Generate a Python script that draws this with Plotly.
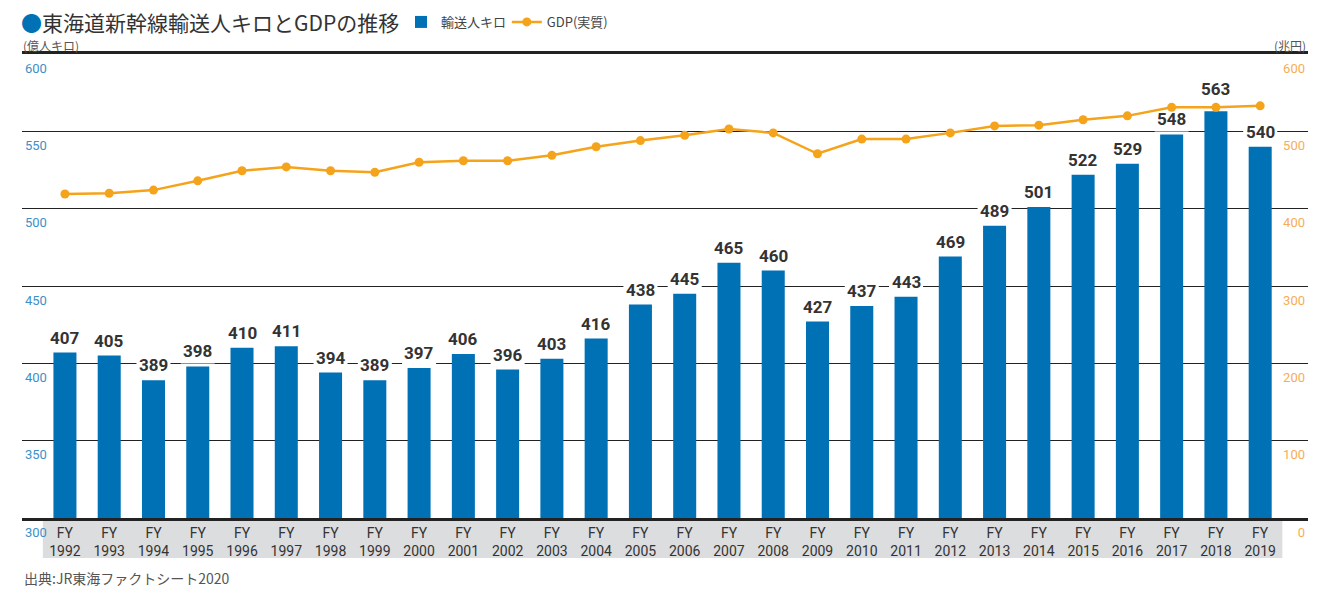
import plotly.graph_objects as go

years = [str(y) for y in range(1992, 2020)]
categories = ["FY<br>" + y for y in years]
passenger_km = [407, 405, 389, 398, 410, 411, 394, 389, 397, 406, 396, 403, 416, 438,
                445, 465, 460, 427, 437, 443, 469, 489, 501, 522, 529, 548, 563, 540]
gdp_real = [419, 420, 424, 436, 449, 454, 449, 447, 460, 462, 462, 469, 480, 488,
            495, 503, 498, 471, 490, 490, 498, 507, 508, 515, 520, 531, 531, 533]
left_ticks = [300, 350, 400, 450, 500, 550, 600]
right_ticks = [0, 100, 200, 300, 400, 500, 600]

BLUE = "#0071b5"
ORANGE = "#f5a31a"
DARK = "#333333"
COND = "Roboto, Liberation Sans Narrow, DejaVu Sans Condensed, sans-serif"
JP = "Noto Sans CJK JP, Noto Sans, sans-serif"

x_idx = list(range(len(categories)))

fig = go.Figure()
fig.add_trace(go.Bar(x=x_idx, y=passenger_km, name="輸送人キロ", marker_color=BLUE,
                     marker_line_width=0, yaxis="y", legend="legend"))
fig.add_trace(go.Scatter(x=x_idx, y=gdp_real, name="GDP(実質)", mode="lines+markers",
                         line=dict(color=ORANGE, width=2.5),
                         marker=dict(color=ORANGE, size=9), yaxis="y2", legend="legend2"))

for i, v in enumerate(passenger_km):
    # label lifted where the GDP marker sits just above the bar (FY2018)
    shift = 10 if v == max(passenger_km) else 3
    # white patch that interrupts the gridlines behind the value label
    fig.add_shape(type="rect", layer="between", xref="x", yref="y",
                  xsizemode="pixel", xanchor=i, x0=-17, x1=17,
                  ysizemode="pixel", yanchor=v, y0=shift, y1=shift + 20,
                  fillcolor="white", line_width=0)
    fig.add_annotation(x=i, y=v, xref="x", yref="y", text=str(v), showarrow=False,
                       yanchor="bottom", yshift=shift,
                       font=dict(family=COND, size=17, color=DARK, weight="bold"))

# grey band behind category labels
fig.add_shape(type="rect", xref="x", yref="paper", x0=-0.5, x1=27.5,
              y0=-0.086, y1=-0.005, fillcolor="#dcdddf", line_width=0, layer="below")

fig.add_annotation(xref="paper", yref="paper", x=-0.001, y=1.019, xanchor="left", yanchor="middle",
                   text="(億人キロ)", showarrow=False, font=dict(family=JP, size=12, color="#555"))
fig.add_annotation(xref="paper", yref="paper", x=1.0, y=1.019, xanchor="right", yanchor="middle",
                   text="(兆円)", showarrow=False, font=dict(family=JP, size=12, color="#555"))
fig.add_annotation(xref="paper", yref="paper", x=0.0, y=-0.129, xanchor="left", yanchor="middle",
                   text="出典:JR東海ファクトシート2020", showarrow=False,
                   font=dict(family=JP, size=14, color="#555"))
fig.add_annotation(xref="paper", yref="paper", x=-0.002, y=1.069, xanchor="left", yanchor="middle",
                   text="<span style='color:%s'>●</span>東海道新幹線輸送人キロとGDPの推移" % BLUE,
                   showarrow=False, font=dict(family=JP, size=21, color=DARK))

legend_font = dict(family=JP, size=13, color="#444")
fig.update_layout(
    width=1342, height=591,
    margin=dict(l=22, r=34, t=54, b=73, autoexpand=False),
    paper_bgcolor="white", plot_bgcolor="white",
    bargap=0.48,
    showlegend=True,
    legend=dict(orientation="h", x=0.2947, y=1.069, xanchor="left", yanchor="middle",
                font=legend_font, bgcolor="rgba(0,0,0,0)", itemwidth=30),
    legend2=dict(orientation="h", x=0.3770, y=1.069, xanchor="left", yanchor="middle",
                 font=legend_font, bgcolor="rgba(0,0,0,0)", itemwidth=30),
    xaxis=dict(range=[-0.97, 28.08], tickmode="array", tickvals=x_idx, ticktext=categories,
               showgrid=False, zeroline=False, showline=True, linewidth=3, linecolor="#222",
               mirror=True, ticks="", automargin=False,
               tickfont=dict(family=COND, size=14, color=DARK)),
    yaxis=dict(range=[300, 600], tickvals=left_ticks, showgrid=True, gridcolor="#222",
               gridwidth=1, zeroline=False, showline=False, ticks="", automargin=False,
               ticklabelposition="inside bottom", ticklabeloverflow="allow", ticklabelshift=5,
               ticklabelstandoff=0,
               tickfont=dict(family=COND, size=13, color="#3d8fc8")),
    yaxis2=dict(range=[0, 600], tickvals=right_ticks, overlaying="y", side="right",
                showgrid=False, zeroline=False, showline=False, ticks="", automargin=False,
                ticklabelposition="inside bottom", ticklabeloverflow="allow", ticklabelshift=5,
                ticklabelstandoff=0,
                tickfont=dict(family=COND, size=13, color="#f7ad55")),
)

fig.write_html("out.html", config={"displayModeBar": False},
               post_script="document.body.style.margin='0';document.body.style.overflow='hidden';")
